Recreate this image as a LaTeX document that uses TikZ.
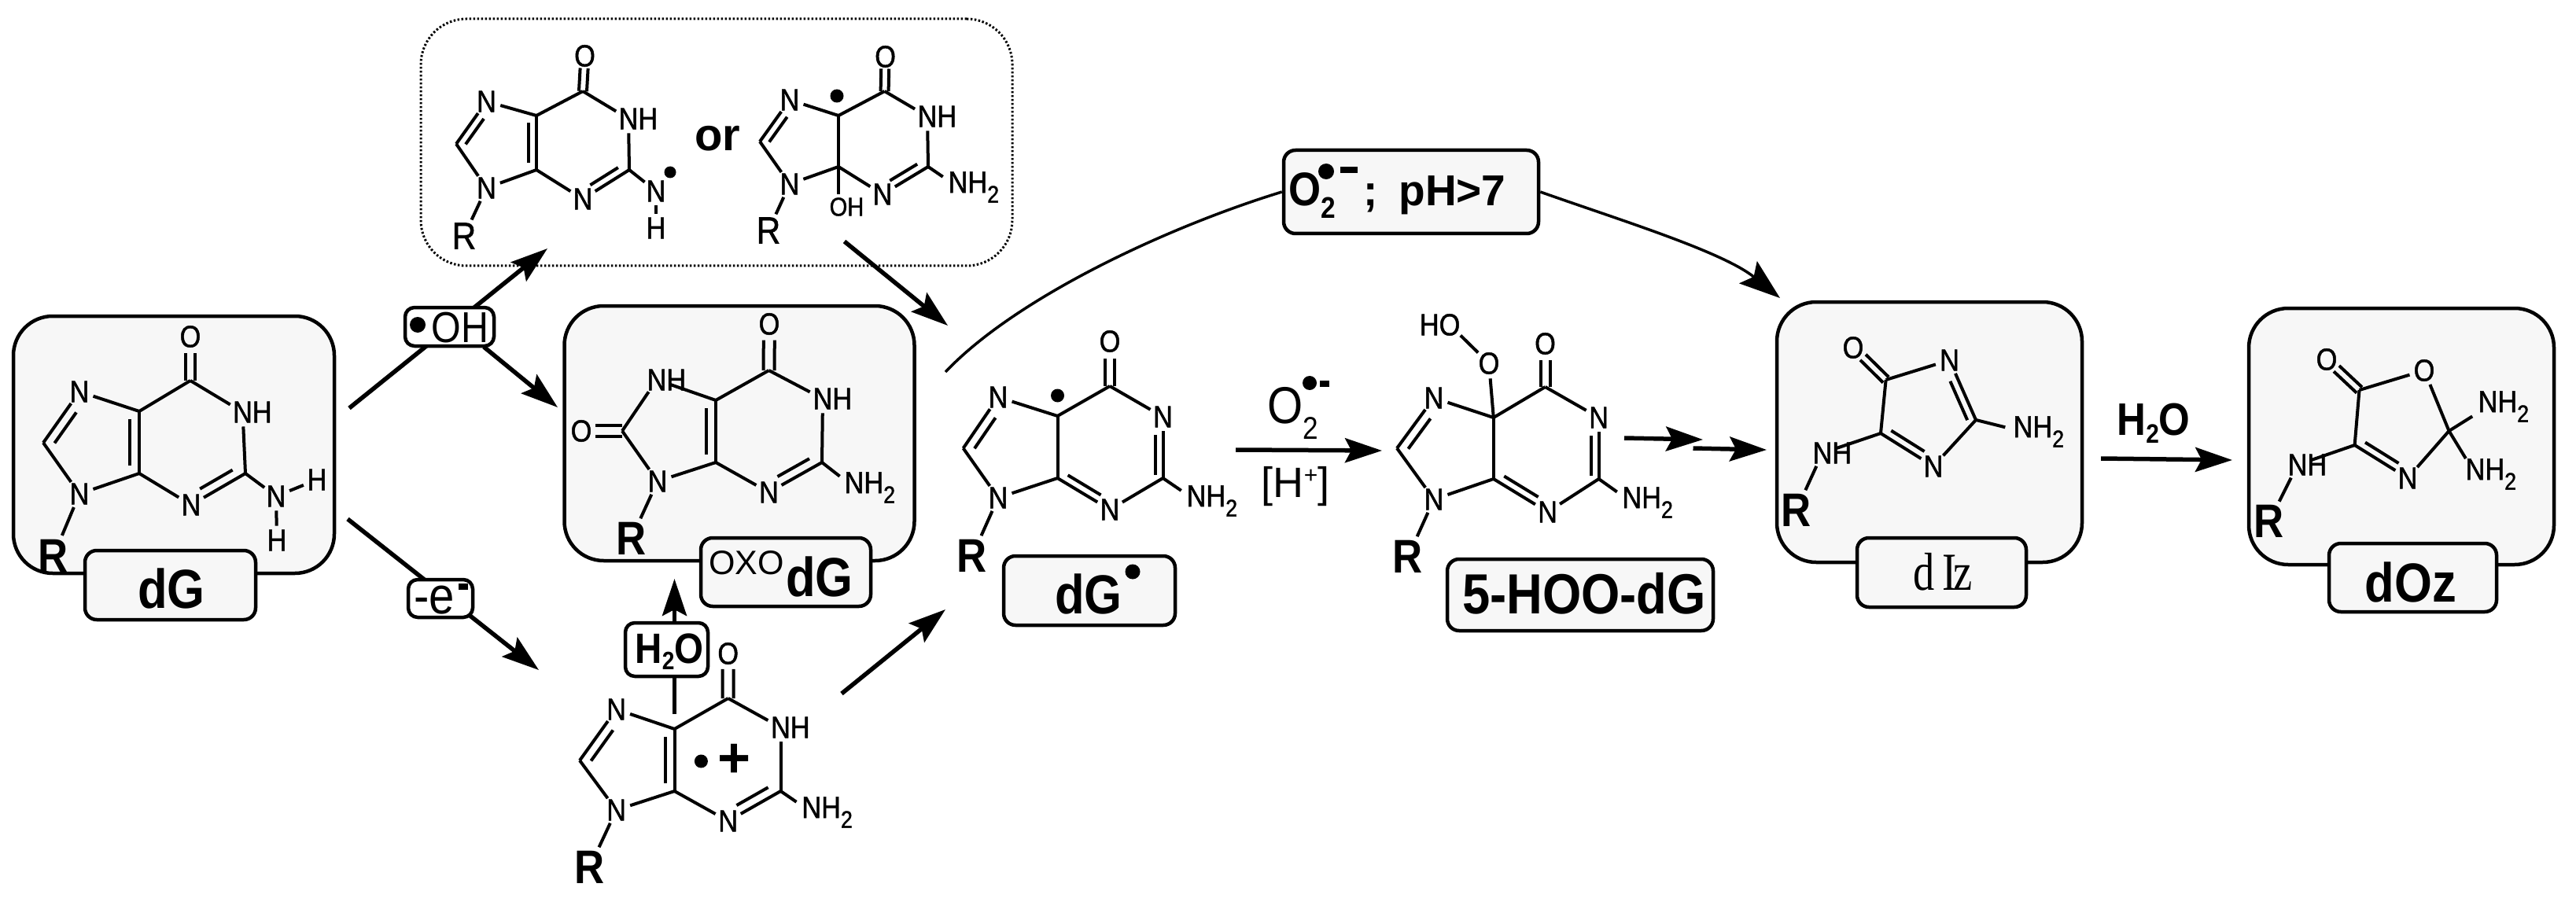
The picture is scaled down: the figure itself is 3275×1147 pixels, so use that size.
\documentclass[tikz,border=0pt]{standalone}
\usepackage{fontspec}
\setmainfont{Liberation Sans}
\newfontfamily\nar[FakeStretch=.88]{Liberation Sans}
\newfontfamily\atomf[FakeStretch=.88,FakeBold=1.2]{Liberation Sans}
\newfontfamily\serifn[FakeStretch=.8]{Liberation Serif}
\usetikzlibrary{arrows.meta,calc}
\newcommand\fs[1]{\fontsize{#1}{#1}\selectfont}
\newcommand\subtwo{\raisebox{-.32em}{\scalebox{.78}{2}}}
\newcommand\atm[3]{\node[atom] (#1) at (#2) {#3};}
\newcommand\vtx[2]{\coordinate (#1) at (#2);}
\newcommand\bnds[1]{\foreach \p/\q in {#1}{\draw[bond] (\p) -- (\q);}}
\newcommand\inb[5]{\draw[bond] ($(#1)!#4!(#2)!#3pt!90:(#2)$) -- ($(#2)!#5!(#1)!#3pt!-90:(#1)$);}
\newcommand\dotm[2]{\fill (#1) circle (#2pt);}
\tikzset{
  atom/.style={circle,inner sep=0pt,font=\atomf\fs{39}},
  smallatom/.style={atom,font=\atomf\fs{33}},
  ratom/.style={atom,font=\nar\fs{60}\bfseries},
  rthin/.style={atom,font=\atomf\fs{48}},
  bond/.style={line width=4pt,line cap=butt,line join=round},
  molbox/.style={draw,line width=4.5pt,fill=boxgray,rounded corners=50pt,inner sep=0pt},
  labbox/.style={draw,line width=4.5pt,fill=boxgray,rounded corners=15pt,inner sep=0pt},
  opbox/.style={draw,line width=4.5pt,fill=white,rounded corners=12pt,inner sep=0pt},
  dotbox/.style={draw,line width=3pt,dash pattern=on 2.5pt off 2.5pt,rounded corners=58pt,inner sep=0pt},
  bigb/.style={inner sep=0pt,anchor=base,font=\nar\fs{70}\bfseries},
  arr/.style={line width=5.5pt,-{Stealth[length=47pt,width=31pt,inset=8pt]}},
  curvearr/.style={line width=3.5pt,-{Stealth[length=52pt,width=36pt,inset=9pt]}},
  plainline/.style={line width=3.5pt},
}
\definecolor{boxgray}{HTML}{F7F7F7}
\begin{document}
\begin{tikzpicture}[x=1pt,y=-1pt]
\useasboundingbox (0,0) rectangle (3275,1147);
% ---------- big boxes
\node[dotbox,minimum width=752pt,minimum height=314pt] (groupbox) at (911,181) {};
\node[molbox,minimum width=408pt,minimum height=327pt] (dgbox) at (221,565.5) {};
\node[molbox,minimum width=445pt,minimum height=324pt] (oxobox) at (940,551) {};
\node[molbox,minimum width=388pt,minimum height=331pt] (izbox) at (2453,549.5) {};
\node[molbox,minimum width=388pt,minimum height=326pt] (ozbox) at (3053,555) {};
% ---------- label boxes
\node[labbox,minimum width=217pt,minimum height=88pt] (dglab) at (216.5,744) {};
\node[bigb] (dgtxt) at (218,773) {dG};
\node[labbox,minimum width=216pt,minimum height=87pt] (oxolab) at (999,727.5) {};
\node[inner sep=0pt,anchor=base,font=\fs{43}] (oxotxt) at (949,730) {OXO};
\node[bigb] (oxodg) at (1042,758) {dG};
\node[labbox,minimum width=218pt,minimum height=88pt] (radlab) at (1385,751) {};
\node[bigb] (radtxt) at (1384,780) {dG};
\dotm{1440,727}{9.5}
\node[labbox,minimum width=338pt,minimum height=91pt] (hoolab) at (2009,756.5) {};
\node[bigb,font=\nar\fs{72}\bfseries] (hootxt) at (2014,780) {5-HOO-dG};
\node[labbox,minimum width=215pt,minimum height=88pt] (izlab) at (2468.5,728) {};
\node[inner sep=0pt,anchor=base,font=\serifn\fs{68}] (iztxt) at (2470,750) {d\hspace{10pt}I\hspace{-5pt}z};
\node[labbox,minimum width=213pt,minimum height=87pt] (ozlab) at (3067.5,734.5) {};
\node[bigb] (oztxt) at (3065,765) {dOz};

% ---------- dG
\atm{ao}{242,428}{O}\vtx{ac6}{242,484}\atm{an1}{308.5,524}{N\rlap{H}}\vtx{ac2}{312,602}
\atm{an3}{243,642}{N}\vtx{ac4}{177,602}\vtx{ac5}{177,523}\atm{an7}{101,498}{N}\vtx{ac8}{55,563}
\atm{an9}{101,628}{N}\node[ratom] (ar) at (68,707) {R};
\atm{anh}{351,631}{N}\atm{ah1}{403,610}{H}\atm{ah2}{352,687}{H}
\bnds{ac6/an1,an1/ac2,ac2/an3,an3/ac4,ac4/ac5,ac5/ac6,ac5/an7,an7/ac8,ac8/an9,an9/ac4,an9/ar,ac2/anh,anh/ah1,anh/ah2}
\inb{ac6}{ao}{6}{0}{.38}\inb{ac6}{ao}{-6}{0}{.38}
\inb{ac4}{ac5}{12}{.13}{.13}\inb{ac8}{an7}{-12}{.1}{.3}\inb{ac2}{an3}{-12}{.15}{.25}

% ---------- first intermediate
\atm{bo}{743.5,71}{O}\vtx{bc6}{741,116}\atm{bn1}{799,151}{N\rlap{H}}\vtx{bc2}{800,216}
\atm{bn3}{741,253}{N}\vtx{bc4}{682,216}\vtx{bc5}{682,147}\atm{bn7}{618.5,129}{N}\vtx{bc8}{580,183}
\atm{bn9}{618.5,239}{N}\node[rthin] (br) at (590,300) {R};
\atm{bnh}{834,243}{N}\atm{bh}{834,290}{H}
\bnds{bc6/bn1,bn1/bc2,bc2/bn3,bn3/bc4,bc4/bc5,bc5/bc6,bc5/bn7,bn7/bc8,bc8/bn9,bn9/bc4,bn9/br,bc2/bnh,bnh/bh}
\inb{bc6}{bo}{5}{0}{.35}\inb{bc6}{bo}{-5}{0}{.35}
\inb{bc4}{bc5}{10}{.13}{.13}\inb{bc8}{bn7}{-10}{.1}{.3}\inb{bc2}{bn3}{-10}{.15}{.25}
\dotm{852,219}{7.5}
\node[inner sep=0pt,anchor=base,font=\fs{58}\bfseries] (ortxt) at (912,192) {or};

% ---------- second intermediate
\atm{co}{1125.6,72}{O}\vtx{cc6}{1124.6,116}\atm{cn1}{1179,148}{N\rlap{H}}\vtx{cc2}{1180,212}
\atm{cn3}{1122,247}{N}\vtx{cc4}{1066,212}\vtx{cc5}{1066,147}\atm{cn7}{1004,127}{N}\vtx{cc8}{966,180}
\atm{cn9}{1004,234}{N}\node[rthin] (cr) at (977,293) {R};
\atm{cnh}{1218,238}{N\rlap{H\subtwo}}\node[smallatom] (coh) at (1066,263) {O\rlap{H}};
\bnds{cc6/cn1,cn1/cc2,cc2/cn3,cn3/cc4,cc4/cc5,cc5/cc6,cc5/cn7,cn7/cc8,cc8/cn9,cn9/cc4,cn9/cr,cc2/cnh,cc4/coh}
\inb{cc6}{co}{5}{0}{.35}\inb{cc6}{co}{-5}{0}{.35}
\inb{cc8}{cn7}{-10}{.1}{.3}\inb{cc2}{cn3}{-10}{.15}{.25}
\dotm{1064,122}{8.5}

% ---------- oxo-dG
\atm{do}{978,412}{O}\vtx{dc6}{977.5,471}\atm{dn1}{1046,507}{N\rlap{H}}\vtx{dc2}{1045,588}
\atm{dn3}{977.5,626}{N}\vtx{dc4}{910,588}\vtx{dc5}{910,509}\atm{dn7}{835,483}{N\rlap{H}}\vtx{dc8}{791,548}
\atm{do8}{739,548}{O}\atm{dn9}{836,612}{N}\node[ratom] (dr) at (802.5,685) {R};
\atm{dnh}{1086,620}{N\rlap{H\subtwo}}
\bnds{dc6/dn1,dn1/dc2,dc2/dn3,dn3/dc4,dc4/dc5,dc5/dc6,dc5/dn7,dn7/dc8,dc8/dn9,dn9/dc4,dn9/dr,dc2/dnh}
\inb{dc6}{do}{7}{0}{.35}\inb{dc6}{do}{-7}{0}{.35}
\inb{dc8}{do8}{7}{0}{.35}\inb{dc8}{do8}{-7}{0}{.35}
\inb{dc4}{dc5}{12}{.13}{.13}\inb{dc2}{dn3}{-12}{.15}{.25}

% ---------- radical cation
\atm{eo}{925.7,831}{O}\vtx{ec6}{925.7,888}\atm{en1}{992.5,925}{N\rlap{H}}\vtx{ec2}{992.5,1006}
\atm{en3}{925.7,1044}{N}\vtx{ec4}{857.5,1006}\vtx{ec5}{857.5,927}\atm{en7}{783.6,902}{N}\vtx{ec8}{737,967}
\atm{en9}{783.6,1030}{N}\node[ratom] (er) at (749.6,1103) {R};
\atm{enh}{1031.8,1033}{N\rlap{H\subtwo}}
\bnds{ec6/en1,en1/ec2,ec2/en3,en3/ec4,ec4/ec5,ec5/ec6,ec5/en7,en7/ec8,ec8/en9,en9/ec4,en9/er,ec2/enh}
\inb{ec6}{eo}{7}{0}{.35}\inb{ec6}{eo}{-7}{0}{.35}
\inb{ec4}{ec5}{12}{.13}{.13}\inb{ec8}{en7}{-12}{.1}{.3}\inb{ec2}{en3}{-12}{.15}{.25}
\dotm{891.4,968}{8.5}
\node[inner sep=0pt,font=\fs{72}\bfseries] (eplus) at (934,967) {+};

% ---------- dG radical
\atm{fo}{1411,434}{O}\vtx{fc6}{1411,491}\atm{fn1}{1478.5,530}{N}\vtx{fc2}{1478.5,608}
\atm{fn3}{1411,648}{N}\vtx{fc4}{1344.5,608}\vtx{fc5}{1344.5,529}\atm{fn7}{1269,505}{N}\vtx{fc8}{1224.6,570}
\atm{fn9}{1269,633}{N}\node[ratom] (fr) at (1236,707) {R};
\atm{fnh}{1521,637}{N\rlap{H\subtwo}}
\bnds{fc6/fn1,fn1/fc2,fc2/fn3,fn3/fc4,fc4/fc5,fc5/fc6,fc5/fn7,fn7/fc8,fc8/fn9,fn9/fc4,fn9/fr,fc2/fnh}
\inb{fc6}{fo}{6}{0}{.38}\inb{fc6}{fo}{-6}{0}{.38}
\inb{fc2}{fn1}{10}{.05}{.3}\inb{fc4}{fn3}{10}{.12}{.25}\inb{fc8}{fn7}{-12}{.1}{.3}
\dotm{1344.5,503}{8.5}

% ---------- 5-HOO-dG
\atm{go}{1964.5,437}{O}\vtx{gc6}{1964.5,492}\atm{gn1}{2032.6,531}{N}\vtx{gc2}{2032.6,609}
\atm{gn3}{1967.6,651}{N}\vtx{gc4}{1898.8,609}\vtx{gc5}{1898.8,531}\atm{gn7}{1823,506}{N}\vtx{gc8}{1776,570}
\atm{gn9}{1823,635}{N}\node[ratom] (gr) at (1790,708) {R};
\atm{gnh}{2074.8,639}{N\rlap{H\subtwo}}
\atm{gop}{1893,462}{O}\atm{goh}{1843,413}{\llap{H}O}
\bnds{gc6/gn1,gn1/gc2,gc2/gn3,gn3/gc4,gc4/gc5,gc5/gc6,gc5/gn7,gn7/gc8,gc8/gn9,gn9/gc4,gn9/gr,gc2/gnh,gc5/gop,gop/goh}
\inb{gc6}{go}{6}{0}{.38}\inb{gc6}{go}{-6}{0}{.38}
\inb{gc2}{gn1}{10}{.05}{.3}\inb{gc4}{gn3}{10}{.12}{.25}\inb{gc8}{gn7}{-12}{.1}{.3}

% ---------- dIz
\atm{ho}{2356,442}{O}\vtx{hc5}{2397.6,483}\atm{hn1}{2478.5,458}{N}\vtx{hc2}{2512,534}
\atm{hn3}{2458,593}{N}\vtx{hc4}{2391,551}\atm{hnr}{2317,576}{N\rlap{H}}
\node[ratom] (hr) at (2283.6,649) {R};\atm{hnh}{2572,549}{N\rlap{H\subtwo}}
\bnds{hc5/hn1,hn1/hc2,hc2/hn3,hn3/hc4,hc4/hc5,hc4/hnr,hnr/hr,hc2/hnh}
\inb{hc5}{ho}{5}{0}{.3}\inb{hc5}{ho}{-5}{0}{.3}
\inb{hc2}{hn1}{10}{.05}{.3}\inb{hc4}{hn3}{10}{.12}{.25}

% ---------- dOz
\atm{io}{2958,457}{O}\vtx{ic5}{2999.5,496}\atm{ior}{3082,471}{O}\vtx{ic2}{3113.5,548}
\atm{in3}{3061,608}{N}\vtx{ic4}{2993.6,566}\atm{inr}{2921,591}{N\rlap{H}}
\node[ratom] (ir) at (2885,663) {R};
\atm{inh}{3163,517}{N\rlap{H\subtwo}}\atm{inb}{3147,603}{N\rlap{H\subtwo}}
\bnds{ic5/ior,ior/ic2,ic2/in3,in3/ic4,ic4/ic5,ic4/inr,inr/ir,ic2/inh,ic2/inb}
\inb{ic5}{io}{5}{0}{.3}\inb{ic5}{io}{-5}{0}{.3}
\inb{ic4}{in3}{10}{.12}{.25}

% ---------- arrows
\vtx{a1s}{444,519}\vtx{a1t}{696,316}
\vtx{a2s}{615,441}\vtx{a2t}{709,518}
\vtx{a3s}{442,660}\vtx{a3t}{685,852}
\vtx{a4s}{857.5,908}\vtx{a4t}{857.5,736}
\vtx{a5s}{1073.5,307}\vtx{a5t}{1205,414}
\vtx{a6s}{1070,882}\vtx{a6t}{1202,775}
\vtx{a7s}{1571,572}\vtx{a7t}{1757,573}
\vtx{a8s}{2065,557}\vtx{a8t}{2165,559}
\vtx{a9s}{2152.5,570}\vtx{a9t}{2246,572}
\vtx{a10s}{2671,583}\vtx{a10t}{2838,585}
\vtx{c1s}{1202,473}\vtx{c2t}{2263,379}
\draw[arr] (a1s) -- (a1t);
\draw[arr] (a2s) -- (a2t);
\draw[arr] (a3s) -- (a3t);
\draw[arr] (a4s) -- (a4t);
\draw[arr] (a5s) -- (a5t);
\draw[arr] (a6s) -- (a6t);
\draw[arr] (a7s) -- (a7t);
\draw[arr] (a8s) -- (a8t);
\draw[arr] (a9s) -- (a9t);
\draw[arr] (a10s) -- (a10t);

% ---------- operator boxes on the arrows
\node[opbox,minimum width=113pt,minimum height=49pt] (ohbox) at (571.5,415.5) {};
\dotm{531,413}{10}
\node[inner sep=0pt,anchor=base,font=\nar\fs{55}] (ohtxt) at (585,435) {OH};
\node[opbox,minimum width=82pt,minimum height=48pt] (ebox) at (560,761) {};
\node[inner sep=0pt,anchor=base,font=\nar\fs{66}] (etxt) at (552,780) {-e};
\fill (583,742) rectangle (595,750);
\node[opbox,minimum width=105pt,minimum height=68pt] (wbox) at (847.5,826) {};
\node[inner sep=0pt,anchor=base,font=\nar\fs{54}\bfseries] (wtxt) at (851,843) {H\raisebox{-8pt}{\fs{32}2}O};

% ---------- top box and its curves
\node[labbox,minimum width=324pt,minimum height=106pt] (phbox) at (1794,244) {};
\node[inner sep=0pt,anchor=base west,font=\nar\fs{60}\bfseries] (o2t) at (1638,262) {O\raisebox{-16pt}{\fs{38}2}};
\fill (1686,218) circle (10pt);
\fill (1704,212) rectangle (1726,220);
\node[inner sep=0pt,anchor=base west,font=\fs{55}\bfseries] (pht) at (1733,262) {;\hspace{27pt}pH>7};
\draw[plainline] (c1s) .. controls (1290,380) and (1480,290) .. (phbox.west);
\draw[curvearr] (phbox.east) .. controls (2060,280) and (2190,320) .. (c2t);

% ---------- reagent labels
\node[inner sep=0pt,anchor=base west,font=\nar\fs{66}] (o2a) at (1611,538) {O\raisebox{-20pt}{\fs{40}2}};
\fill (1665,487) circle (9pt);
\fill (1678,484) rectangle (1690,492);
\node[inner sep=0pt,anchor=base,font=\fs{54}] (hplus) at (1647,632) {[H\raisebox{18pt}{\fs{30}+}]};
\node[inner sep=0pt,anchor=base,font=\nar\fs{58}\bfseries] (h2ob) at (2738,553) {H\raisebox{-10pt}{\fs{34}2}O};
\end{tikzpicture}
\end{document}
